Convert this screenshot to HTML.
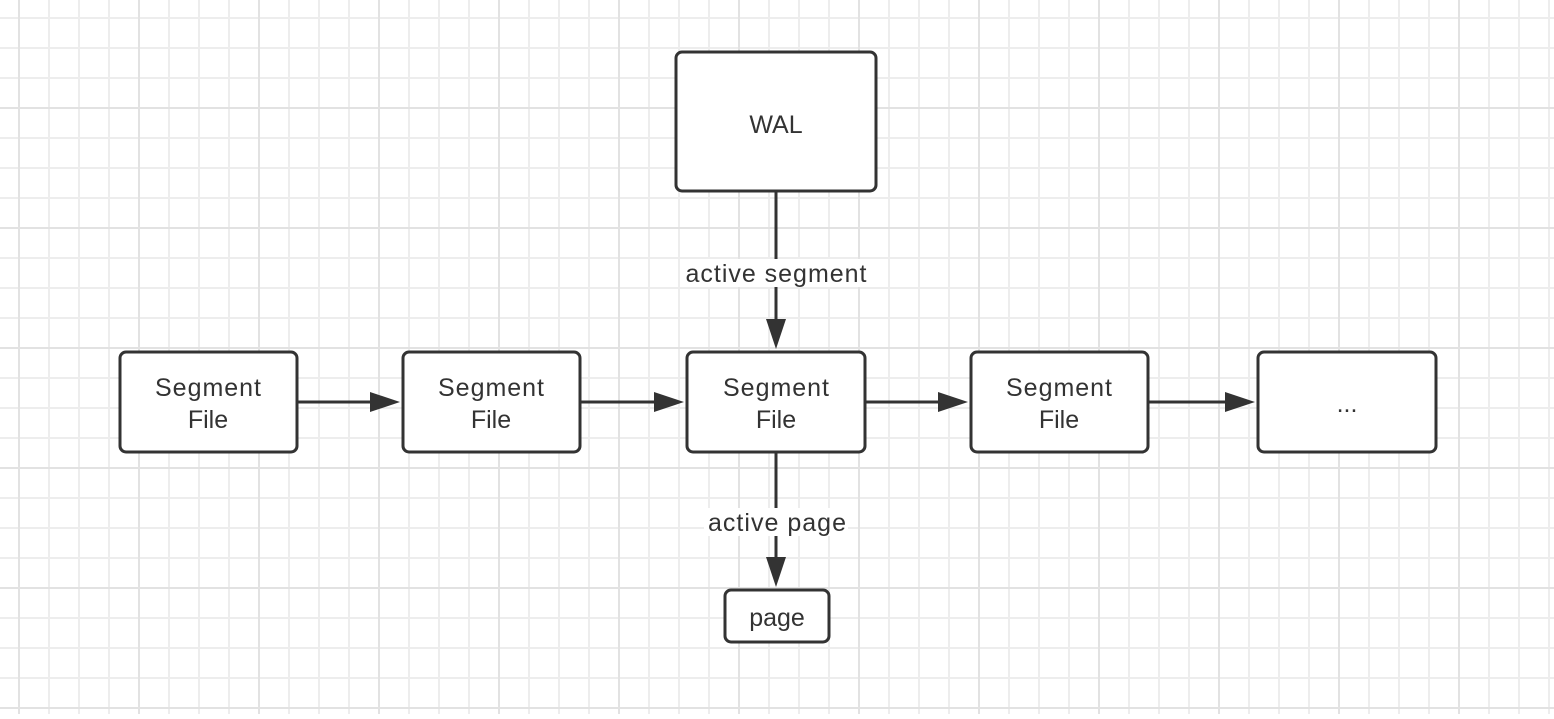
<!DOCTYPE html>
<html><head><style>
body{margin:0;width:1554px;height:714px;overflow:hidden;background:#fff;font-family:"Liberation Sans",sans-serif}
</style></head><body>
<svg width="1554" height="714" xmlns="http://www.w3.org/2000/svg">
<defs>
<pattern id="g" x="18" y="17" width="30" height="30" patternUnits="userSpaceOnUse"><path d="M1 0V30M0 1H30" stroke="#ededed" stroke-width="2" fill="none"/></pattern>
<pattern id="G" x="18" y="-13" width="120" height="120" patternUnits="userSpaceOnUse"><path d="M1 0V120M0 1H120" stroke="#e2e2e2" stroke-width="2" fill="none"/></pattern>
</defs>
<rect width="1554" height="714" fill="url(#g)"/>
<rect width="1554" height="714" fill="url(#G)"/>
<g stroke="#333" stroke-width="3" fill="#fff">
<rect x="120" y="352" width="177" height="100" rx="6"/>
<rect x="403" y="352" width="177" height="100" rx="6"/>
<rect x="687" y="352" width="178" height="100" rx="6"/>
<rect x="971" y="352" width="177" height="100" rx="6"/>
<rect x="1258" y="352" width="178" height="100" rx="6"/>
<rect x="676" y="52" width="200" height="139" rx="6"/>
<rect x="725" y="590" width="104" height="52" rx="6"/>
</g>
<g stroke="#333" stroke-width="3">
<line x1="297" y1="402" x2="372" y2="402"/>
<line x1="580" y1="402" x2="656" y2="402"/>
<line x1="865" y1="402" x2="940" y2="402"/>
<line x1="1148" y1="402" x2="1227" y2="402"/>
<line x1="776" y1="191" x2="776" y2="322"/>
<line x1="776" y1="452" x2="776" y2="560"/>
</g>
<g fill="#333">
<polygon points="370,392 400,402 370,412"/>
<polygon points="654,392 684,402 654,412"/>
<polygon points="938,392 968,402 938,412"/>
<polygon points="1225,392 1255,402 1225,412"/>
<polygon points="766,319 776,349 786,319"/>
<polygon points="766,557 776,587 786,557"/>
</g>
<rect x="682" y="259" width="188" height="28" fill="#fff"/>
<rect x="704" y="508" width="144" height="28" fill="#fff"/>
<g font-family="Liberation Sans, sans-serif" font-size="25" fill="#333" text-anchor="middle">
<text x="208" y="396" textLength="106">Segment</text><text x="208" y="428">File</text>
<text x="491" y="396" textLength="106">Segment</text><text x="491" y="428">File</text>
<text x="776" y="396" textLength="106">Segment</text><text x="776" y="428">File</text>
<text x="1059" y="396" textLength="106">Segment</text><text x="1059" y="428">File</text>
<text x="1347" y="412">...</text>
<text x="776" y="133">WAL</text>
<text x="777" y="626">page</text>
<text x="776" y="282" textLength="181">active segment</text>
<text x="777" y="531" textLength="138">active page</text>
</g>
</svg>
</body></html>
